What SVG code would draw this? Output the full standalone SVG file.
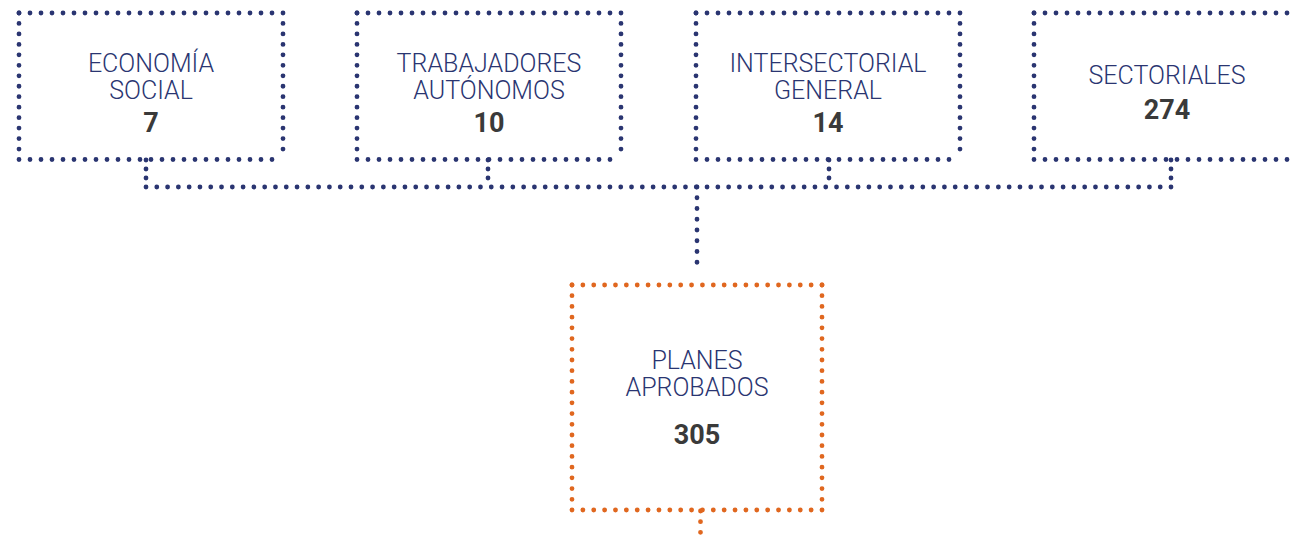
<svg xmlns="http://www.w3.org/2000/svg" width="1295" height="539" viewBox="0 0 1295 539">
<style>
.d{fill:none;stroke-width:4.8;stroke-linecap:round;stroke-dasharray:0 1}
.n{stroke:#2a3571}
.o{stroke:#e0671f}
.t{font-family:Roboto,"Liberation Sans",sans-serif;font-weight:300;font-size:25px;fill:#2a3571;text-anchor:middle}
.v{font-family:Roboto,"Liberation Sans",sans-serif;font-weight:700;font-size:27px;fill:#3a3a3a;text-anchor:middle}
</style>
<rect width="1295" height="539" fill="#fff"/>
<g id="connectors">
<line class="d n" x1="146" y1="160" x2="146" y2="187" pathLength="3"/>
<line class="d n" x1="488" y1="160" x2="488" y2="187" pathLength="3"/>
<line class="d n" x1="829" y1="160" x2="829" y2="187" pathLength="3"/>
<line class="d n" x1="1171" y1="160" x2="1171" y2="187" pathLength="3"/>
<line class="d n" x1="146" y1="187" x2="1171" y2="187" pathLength="95"/>
<line class="d n" x1="697" y1="187" x2="697" y2="273" pathLength="8"/>
<line class="d o" x1="700.5" y1="511" x2="700.5" y2="543" pathLength="3"/>
</g>
<g id="economia-social">
<line class="d n" x1="19" y1="13" x2="283" y2="13" pathLength="24"/>
<line class="d n" x1="19" y1="159.5" x2="283" y2="159.5" pathLength="24"/>
<line class="d n" x1="19" y1="13" x2="19" y2="159.5" pathLength="14"/>
<line class="d n" x1="283" y1="13" x2="283" y2="159.5" pathLength="14"/>
<text class="t"><tspan x="151" y="72">ECONOMÍA</tspan><tspan x="151" y="99">SOCIAL</tspan></text>
<text class="v" x="151" y="132">7</text>
</g>
<g id="trabajadores-autonomos">
<line class="d n" x1="357" y1="13" x2="621" y2="13" pathLength="24"/>
<line class="d n" x1="357" y1="159.5" x2="621" y2="159.5" pathLength="24"/>
<line class="d n" x1="357" y1="13" x2="357" y2="159.5" pathLength="14"/>
<line class="d n" x1="621" y1="13" x2="621" y2="159.5" pathLength="14"/>
<text class="t"><tspan x="489" y="72">TRABAJADORES</tspan><tspan x="489" y="99">AUTÓNOMOS</tspan></text>
<text class="v" x="489" y="132">10</text>
</g>
<g id="intersectorial-general">
<line class="d n" x1="696" y1="13" x2="960" y2="13" pathLength="24"/>
<line class="d n" x1="696" y1="159.5" x2="960" y2="159.5" pathLength="24"/>
<line class="d n" x1="696" y1="13" x2="696" y2="159.5" pathLength="14"/>
<line class="d n" x1="960" y1="13" x2="960" y2="159.5" pathLength="14"/>
<text class="t"><tspan x="828" y="72">INTERSECTORIAL</tspan><tspan x="828" y="99">GENERAL</tspan></text>
<text class="v" x="828" y="132">14</text>
</g>
<g id="sectoriales">
<line class="d n" x1="1034" y1="13" x2="1298" y2="13" pathLength="24"/>
<line class="d n" x1="1034" y1="159.5" x2="1298" y2="159.5" pathLength="24"/>
<line class="d n" x1="1034" y1="13" x2="1034" y2="159.5" pathLength="14"/>
<text class="t" x="1167" y="84">SECTORIALES</text>
<text class="v" x="1167" y="119">274</text>
</g>
<g id="planes-aprobados">
<line class="d o" x1="572" y1="285" x2="822" y2="285" pathLength="23"/>
<line class="d o" x1="572" y1="510" x2="822" y2="510" pathLength="23"/>
<line class="d o" x1="572" y1="285" x2="572" y2="510" pathLength="21"/>
<line class="d o" x1="822" y1="285" x2="822" y2="510" pathLength="21"/>
<text class="t"><tspan x="697" y="369">PLANES</tspan><tspan x="697" y="396">APROBADOS</tspan></text>
<text class="v" x="697" y="444">305</text>
</g>
</svg>
